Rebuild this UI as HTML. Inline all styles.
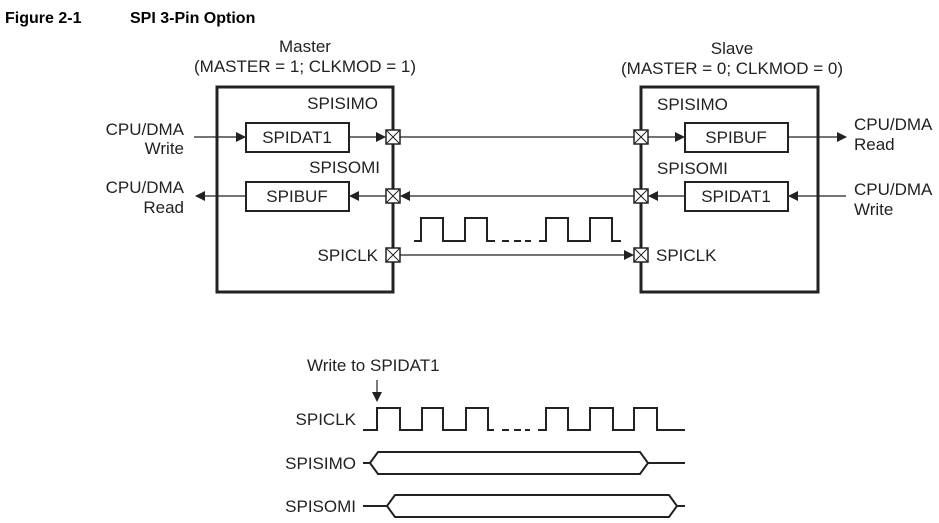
<!DOCTYPE html>
<html><head><style>
body{margin:0;background:#fff;}
svg{display:block;}
text{font-family:"Liberation Sans",sans-serif;font-size:17px;fill:#222;}
.b{font-weight:bold;font-size:16px;fill:#000;}
</style></head><body>
<svg width="939" height="523" viewBox="0 0 939 523">
<defs>
<marker id="a" markerWidth="10" markerHeight="10" refX="9" refY="5" orient="auto" markerUnits="userSpaceOnUse"><path d="M0,0 L10,5 L0,10 z" fill="#222"/></marker>
<g id="pin"><rect x="-7" y="-7" width="14" height="14" fill="#fff" stroke="#222" stroke-width="1.5"/><path d="M-7,-7 L7,7 M7,-7 L-7,7" stroke="#222" stroke-width="1"/></g>
</defs>
<text x="5" y="23" class="b">Figure 2-1</text>
<text x="130" y="23" class="b">SPI 3-Pin Option</text>

<text x="305" y="52" text-anchor="middle">Master</text>
<text x="305" y="72" text-anchor="middle">(MASTER = 1; CLKMOD = 1)</text>
<text x="732" y="54" text-anchor="middle">Slave</text>
<text x="732" y="74" text-anchor="middle">(MASTER = 0; CLKMOD = 0)</text>

<g stroke="#222" fill="none">
<rect x="217" y="87" width="176" height="205" stroke-width="3"/>
<rect x="641" y="87" width="177" height="205" stroke-width="3"/>
<rect x="246" y="123" width="103" height="29" stroke-width="2"/>
<rect x="246" y="182" width="103" height="29" stroke-width="2"/>
<rect x="685" y="123" width="103" height="29" stroke-width="2"/>
<rect x="685" y="182" width="103" height="29" stroke-width="2"/>
<g stroke-width="1.2">
<line x1="194" y1="137" x2="245" y2="137" marker-end="url(#a)"/>
<line x1="349" y1="137" x2="385" y2="137" marker-end="url(#a)"/>
<line x1="400" y1="137" x2="634" y2="137"/>
<line x1="648" y1="137" x2="684" y2="137" marker-end="url(#a)"/>
<line x1="788" y1="137" x2="846" y2="137" marker-end="url(#a)"/>
<line x1="246" y1="196" x2="196" y2="196" marker-end="url(#a)"/>
<line x1="386" y1="196" x2="350" y2="196" marker-end="url(#a)"/>
<line x1="634" y1="196" x2="401" y2="196" marker-end="url(#a)"/>
<line x1="685" y1="196" x2="649" y2="196" marker-end="url(#a)"/>
<line x1="846" y1="196" x2="789" y2="196" marker-end="url(#a)"/>
<line x1="400" y1="255" x2="633" y2="255" marker-end="url(#a)"/>
</g>
<g stroke-width="2">
<path d="M414,241 H421 V218 H443 V241 H465 V218 H487 V241 H495"/>
<path d="M502,241 H509 M514,241 H521 M525,241 H531"/>
<path d="M539,241 H546 V218 H568 V241 H590 V218 H612 V241 H621"/>
<path d="M363,430 H377 V408 H400 V430 H422 V408 H443 V430 H466 V408 H488 V430 H494"/>
<path d="M502,430 H509 M514,430 H521 M525,430 H530"/>
<path d="M538,430 H546 V408 H568 V430 H590 V408 H613 V430 H634 V408 H657 V430 H685"/>
<path d="M363,463 H370 L378,452 H640 L648,463 L640,474 H378 L370,463 M648,463 H685"/>
<path d="M363,506 H387 L395,495 H669 L677,506 L669,517 H395 L387,506 M677,506 H685"/>
</g>
<line x1="377" y1="380" x2="377" y2="401" stroke-width="1.2" marker-end="url(#a)"/>
</g>
<use href="#pin" x="393" y="137"/><use href="#pin" x="393" y="196"/><use href="#pin" x="393" y="255"/>
<use href="#pin" x="641" y="137"/><use href="#pin" x="641" y="196"/><use href="#pin" x="641" y="255"/>

<text x="378" y="109" text-anchor="end">SPISIMO</text>
<text x="380" y="173" text-anchor="end">SPISOMI</text>
<text x="378" y="261" text-anchor="end">SPICLK</text>
<text x="297" y="143" text-anchor="middle">SPIDAT1</text>
<text x="297" y="202" text-anchor="middle">SPIBUF</text>
<text x="184" y="135" text-anchor="end">CPU/DMA</text>
<text x="184" y="154" text-anchor="end">Write</text>
<text x="184" y="193" text-anchor="end">CPU/DMA</text>
<text x="184" y="213" text-anchor="end">Read</text>

<text x="657" y="110">SPISIMO</text>
<text x="657" y="174">SPISOMI</text>
<text x="656" y="261">SPICLK</text>
<text x="736" y="143" text-anchor="middle">SPIBUF</text>
<text x="736" y="202" text-anchor="middle">SPIDAT1</text>
<text x="854" y="130">CPU/DMA</text>
<text x="854" y="150">Read</text>
<text x="854" y="195">CPU/DMA</text>
<text x="854" y="215">Write</text>

<text x="307" y="371">Write to SPIDAT1</text>
<text x="356" y="425" text-anchor="end">SPICLK</text>
<text x="356" y="469" text-anchor="end">SPISIMO</text>
<text x="356" y="512" text-anchor="end">SPISOMI</text>
</svg>
</body></html>
